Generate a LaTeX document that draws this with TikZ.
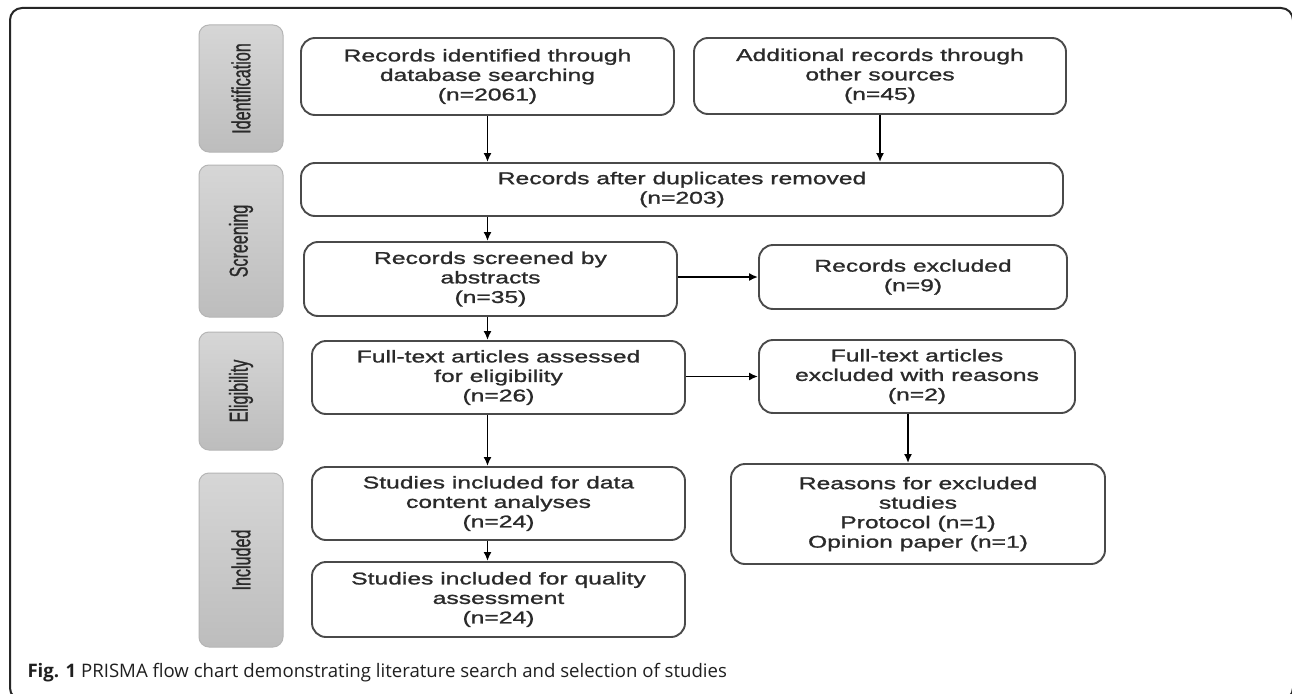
\documentclass[tikz,border=0pt]{standalone}
\usepackage{fontspec}
\setmainfont{Liberation Sans}
\newfontfamily\boxfont[FakeStretch=1.45,FakeBold=1.2]{Liberation Sans}
\newfontfamily\barfont[FakeStretch=0.62,FakeBold=0.8]{Liberation Sans}
\newfontfamily\capfont{Open Sans}
\usetikzlibrary{arrows.meta}

\definecolor{boxline}{HTML}{4A4A4A}
\definecolor{boxtext}{HTML}{2A2A2A}
\definecolor{barline}{HTML}{B5B5B5}

\tikzset{
	flowbox/.style={draw=boxline, line width=1.9pt, rounded corners=14pt, inner sep=0pt, align=center, text=boxtext, font=\boxfont\fontsize{17}{19.5}\selectfont},
	stagebar/.style={draw=barline, line width=1pt, rounded corners=10pt, top color=black!16, bottom color=black!26, minimum width=84pt, inner sep=0pt, text=boxtext, font=\barfont\fontsize{26}{28}\selectfont},
	flowarrow/.style={line width=1.8pt, -{Latex[length=9pt,width=8pt]}}
}

\begin{document}
\begin{tikzpicture}[x=1pt, y=-1pt]
		\clip (0, 0) rectangle (1292, 693);
		\fill [white] (0, 0) rectangle (1292, 693);
		\draw [line width=2pt, black!85, rounded corners=12pt] (10, 8) rectangle (1293, 700);
		\node [stagebar, minimum height=127pt] (identbar) at (241, 88.5) {\rotatebox{90}{Identification}};
		\node [stagebar, minimum height=152pt] (screenbar) at (241, 241) {\rotatebox{90}{Screening}};
		\node [stagebar, minimum height=118pt] (eligbar) at (241, 391) {\rotatebox{90}{Eligibility}};
		\node [stagebar, minimum height=174pt] (inclbar) at (241, 560) {\rotatebox{90}{Included}};
		\node [flowbox, minimum width=373pt, minimum height=77pt] (ident) at (487.5, 76.5) {Records identified through\\database searching\\(n=2061)};
		\node [flowbox, minimum width=372pt, minimum height=76pt] (addl) at (880, 76) {Additional records through\\other sources\\(n=45)};
		\node [flowbox, minimum width=762pt, minimum height=53pt] (dups) at (682, 189.5) {Records after duplicates removed\\(n=203)};
		\node [flowbox, minimum width=373pt, minimum height=74pt] (screened) at (490.5, 279) {Records screened by\\abstracts\\(n=35)};
		\node [flowbox, minimum width=308pt, minimum height=64pt] (excl) at (913, 277) {Records excluded\\(n=9)};
		\node [flowbox, minimum width=373pt, minimum height=73pt] (fullass) at (498.5, 377.5) {Full-text articles assessed\\for eligibility\\(n=26)};
		\node [flowbox, minimum width=316pt, minimum height=73pt] (fullexcl) at (917, 376.5) {Full-text articles\\excluded with reasons\\(n=2)};
		\node [flowbox, minimum width=373pt, minimum height=73pt] (data) at (498.5, 503.5) {Studies included for data\\content analyses\\(n=24)};
		\node [flowbox, minimum width=373pt, minimum height=75pt] (quality) at (498.5, 599.5) {Studies included for quality\\assessment\\(n=24)};
		\node [flowbox, minimum width=374pt, minimum height=100pt] (reasons) at (918, 514) {Reasons for excluded\\studies\\Protocol (n=1)\\Opinion paper (n=1)};
		\coordinate (trunk) at (487.5, 0);
		\draw [flowarrow] (ident.south) -- (ident.south |- dups.north);
		\draw [flowarrow] (addl.south) -- (addl.south |- dups.north);
		\draw [flowarrow] (trunk |- dups.south) -- (trunk |- screened.north);
		\draw [flowarrow] (trunk |- screened.south) -- (trunk |- fullass.north);
		\draw [flowarrow] (trunk |- fullass.south) -- (trunk |- data.north);
		\draw [flowarrow] (trunk |- data.south) -- (trunk |- quality.north);
		\draw [flowarrow] (excl.west -| screened.east) -- (excl.west);
		\draw [flowarrow] (fullexcl.west -| fullass.east) -- (fullexcl.west);
		\draw [flowarrow] ([xshift=-9pt]fullexcl.south) -- ([xshift=-9pt]fullexcl.south |- reasons.north);
		\node [anchor=west, text=black!88, font=\capfont\fontsize{18.6}{21}\selectfont] (caption) at (24, 673) {\textbf{Fig. 1} PRISMA flow chart demonstrating literature search and selection of studies};
	\end{tikzpicture}
\end{document}
